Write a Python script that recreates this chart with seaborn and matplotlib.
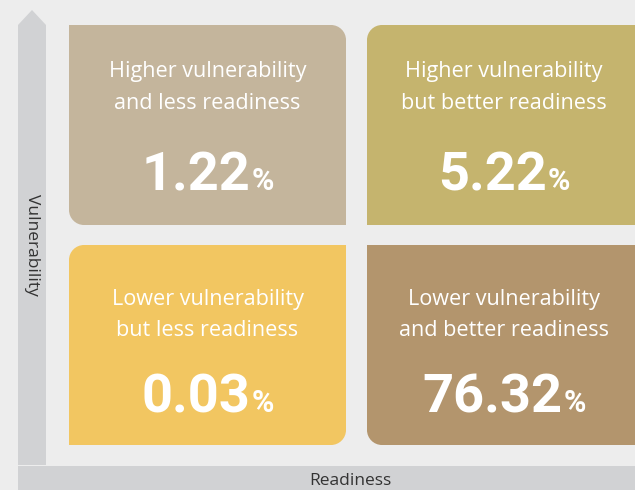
import numpy as np
import matplotlib
matplotlib.use("Agg")
import matplotlib.pyplot as plt
import seaborn as sns
from matplotlib.path import Path
from matplotlib.patches import PathPatch, Polygon, Rectangle

sns.set_style("white")
plt.rcParams['font.family'] = ['Open Sans', 'DejaVu Sans']

# ---- data ----
labels = [
    "Higher vulnerability\nand less readiness",
    "Higher vulnerability\nbut better readiness",
    "Lower vulnerability\nbut less readiness",
    "Lower vulnerability\nand better readiness",
]
values = [1.22, 5.22, 0.03, 76.32]
box_colors = ["#c4b59c", "#c5b46e", "#f2c661", "#b3956d"]
x_label = "Readiness"
y_label = "Vulnerability"

W, H = 635, 490
fig = plt.figure(figsize=(W / 100, H / 100), dpi=100)
fig.patch.set_facecolor("#ededed")
ax = fig.add_axes([0, 0, 1, 1])
ax.set_xlim(0, W)
ax.set_ylim(H, 0)
ax.axis("off")
ax.set_facecolor("#ededed")

bar_col = "#d1d2d4"
# vertical arrow
ax.add_patch(Polygon([(18, 465), (18, 25), (32, 10), (46, 25), (46, 465)],
                     closed=True, facecolor=bar_col, edgecolor="none"))
# bottom bar
ax.add_patch(Rectangle((18, 466), W - 18 + 5, 30, facecolor=bar_col, edgecolor="none"))


def rbox(x0, y0, x1, y1, r):
    # r = radii for (tl, tr, br, bl) ; y axis inverted (y0 top)
    tl, tr, br, bl = r
    k = 0.5523
    verts, codes = [], []
    verts.append((x0 + tl, y0)); codes.append(Path.MOVETO)
    verts.append((x1 - tr, y0)); codes.append(Path.LINETO)
    if tr:
        verts += [(x1 - tr + k * tr, y0), (x1, y0 + tr - k * tr), (x1, y0 + tr)]
        codes += [Path.CURVE4] * 3
    verts.append((x1, y1 - br)); codes.append(Path.LINETO)
    if br:
        verts += [(x1, y1 - br + k * br), (x1 - br + k * br, y1), (x1 - br, y1)]
        codes += [Path.CURVE4] * 3
    verts.append((x0 + bl, y1)); codes.append(Path.LINETO)
    if bl:
        verts += [(x0 + bl - k * bl, y1), (x0, y1 - bl + k * bl), (x0, y1 - bl)]
        codes += [Path.CURVE4] * 3
    verts.append((x0, y0 + tl)); codes.append(Path.LINETO)
    if tl:
        verts += [(x0, y0 + tl - k * tl), (x0 + tl - k * tl, y0), (x0 + tl, y0)]
        codes += [Path.CURVE4] * 3
    verts.append((x0 + tl, y0)); codes.append(Path.CLOSEPOLY)
    return Path(verts, codes)


R = 15
boxes = [
    (69, 25, 346, 225, (0, R, 0, R)),
    (367, 25, 670, 225, (R, 0, 0, 0)),
    (69, 245, 346, 445, (R, 0, R, 0)),
    (367, 245, 670, 445, (0, 0, 0, R)),
]
centers = [207.5, 504, 207.5, 504]
line_y = [(72, 103), (72, 103), (299, 330), (299, 330)]
num_base = [190, 190, 412, 412]

fig.canvas.draw()
renderer = fig.canvas.get_renderer()
num_font = dict(family=['Roboto', 'DejaVu Sans'], weight='bold', color='white')

for i, (x0, y0, x1, y1, r) in enumerate(boxes):
    ax.add_patch(PathPatch(rbox(x0, y0, x1, y1, r), facecolor=box_colors[i],
                           edgecolor="none"))
    cx = centers[i]
    l1, l2 = labels[i].split("\n")
    ax.text(cx, line_y[i][0], l1, ha="center", va="center", color="white",
            fontsize=15.6)
    ax.text(cx, line_y[i][1], l2, ha="center", va="center", color="white",
            fontsize=15.6)
    t_num = ax.text(0, num_base[i], f"{values[i]:.2f}", ha="left", va="baseline",
                    fontsize=39, **num_font)
    t_pct = ax.text(0, num_base[i], "%", ha="left", va="baseline",
                    fontsize=22, **num_font)
    w_num = t_num.get_window_extent(renderer).width
    w_pct = t_pct.get_window_extent(renderer).width
    gap = 1
    total = w_num + gap + w_pct
    start = cx - total / 2
    t_num.set_x(start)
    t_pct.set_x(start + w_num + gap)

ax.text(32, 245, y_label, rotation=-90, ha="center", va="center",
        color="#333333", fontsize=12.5)
ax.text(350, 481, x_label, ha="center", va="center", color="#333333",
        fontsize=12.5)

fig.savefig("out.png", dpi=100, facecolor=fig.get_facecolor())
